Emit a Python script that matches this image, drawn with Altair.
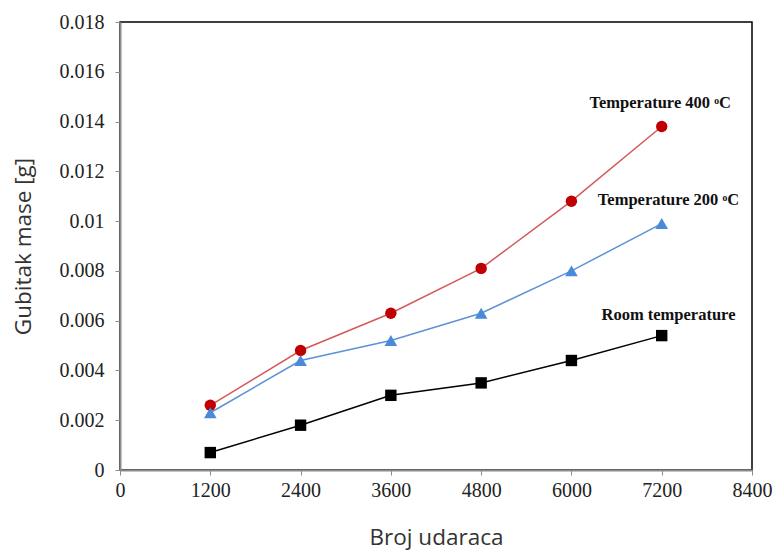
import altair as alt
import pandas as pd

x_vals = [1200, 2400, 3600, 4800, 6000, 7200]
t400 = [0.0026, 0.0048, 0.0063, 0.0081, 0.0108, 0.0138]
t200 = [0.0023, 0.0044, 0.0052, 0.0063, 0.0080, 0.0099]
room = [0.0007, 0.0018, 0.0030, 0.0035, 0.0044, 0.0054]
x_ticks = [0, 1200, 2400, 3600, 4800, 6000, 7200, 8400]
y_ticks = [0, 0.002, 0.004, 0.006, 0.008, 0.01, 0.012, 0.014, 0.016, 0.018]

series_names = ["Temperature 400 ᵒC", "Temperature 200 ᵒC", "Room temperature"]
label_x = [7180, 7290, 7290]
label_y = [0.01475, 0.01085, 0.00623]

rows = []
for name, vals in zip(series_names, [t400, t200, room]):
    for xv, yv in zip(x_vals, vals):
        rows.append({"x": xv, "y": yv, "s": name})
df = pd.DataFrame(rows)
lab = pd.DataFrame({"x": label_x, "y": label_y, "s": series_names})

xs = alt.Scale(domain=[0, 8400], nice=False)
ys = alt.Scale(domain=[0, 0.018], nice=False)

common = dict(grid=False, domainColor="#8c8c8c", tickColor="#8c8c8c", tickSize=5, domainWidth=2,
              labelFont="Liberation Serif", labelFontSize=20, labelColor="#222",
              labelFlush=False, labelOverlap=False,
              titleFont="Open Sans", titleFontSize=22.5, titleFontWeight="normal", titleColor="#333")
xax = alt.Axis(values=x_ticks, format="d", title="Broj udaraca", titlePadding=26, labelPadding=5, **common)
yax = alt.Axis(values=y_ticks, format="~g", title="Gubitak mase [g]", titlePadding=24, labelPadding=11, **common)

X = alt.X("x:Q", scale=xs, axis=xax)
Y = alt.Y("y:Q", scale=ys, axis=yax)

colors_line = {"Temperature 400 ᵒC": "#d45a5a", "Temperature 200 ᵒC": "#5b93d6", "Room temperature": "#000000"}

layers = []
marks = [("Temperature 400 ᵒC", "circle", "#c00000", 130),
         ("Temperature 200 ᵒC", "triangle-up", "#4a8ad8", 160),
         ("Room temperature", "square", "#000000", 130)]
for name, shape, col, size in marks:
    d = df[df.s == name]
    line = alt.Chart(d).mark_line(color=colors_line[name], strokeWidth=1.5).encode(x=X, y=Y)
    pts = alt.Chart(d).mark_point(shape=shape, filled=True, color=col, size=size, opacity=1).encode(x=X, y=Y)
    layers += [line, pts]

text = alt.Chart(lab).mark_text(font="Liberation Serif", fontWeight="bold", fontSize=16.5,
                                color="#111", align="center", baseline="middle").encode(
    x=X, y=Y, text="s:N")
layers.append(text)

chart = alt.layer(*layers).properties(
    width=632, height=448,
    autosize=alt.AutoSizeParams(type="none"),
    padding={"left": 120, "top": 22, "right": 28, "bottom": 81},
    background="white",
).configure_view(
    stroke="#000000", strokeWidth=1.5
).configure_axis(**common)

chart.save("out.html", embed_options={"renderer": "svg", "actions": False})
